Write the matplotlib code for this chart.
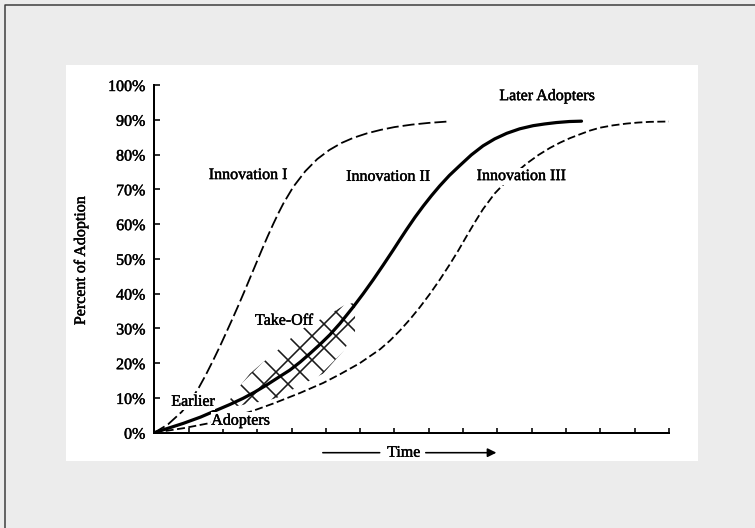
import numpy as np
import matplotlib.pyplot as plt
import matplotlib.patheffects as pe
from matplotlib.patches import Rectangle
from matplotlib.lines import Line2D

plt.rcParams['font.family'] = ['Liberation Serif', 'DejaVu Serif']
plt.rcParams['lines.scale_dashes'] = False
plt.rcParams['hatch.linewidth'] = 1.6

# curves: x in time ticks, y in percent
inno1_x = [0, 0.4, 0.8, 1.05, 1.3, 1.5, 1.72, 1.92, 2.11, 2.28, 2.45, 2.62, 2.79, 2.96, 3.13,
           3.3, 3.47, 3.62, 3.76, 4.05, 4.4, 4.75, 5.1, 5.45, 5.8, 6.2, 6.6, 7.0, 7.5, 8.0, 8.56]
inno1_y = [0, 2.4, 6.0, 9.1, 13.0, 16.6, 20.9, 25.0, 29.1, 32.8, 36.6, 40.5, 44.5, 48.5, 52.5,
           56.4, 60.1, 63.2, 65.9, 70.7, 75.2, 78.7, 81.3, 83.3, 84.8, 86.1, 87.1, 87.9, 88.6, 89.1, 89.5]

inno2_x = [0, 0.85, 1.35, 1.82, 2.2, 2.59, 2.93, 3.27, 3.6, 3.95, 4.25, 4.54, 4.83, 5.12, 5.41,
           5.8, 6.09, 6.38, 6.67, 6.96, 7.15, 7.35, 7.6, 7.84, 8.08, 8.32, 8.6, 8.9, 9.24, 9.58,
           9.92, 10.27, 10.65, 11.04, 11.38, 11.72, 12.1, 12.45]
inno2_y = [0, 2.7, 4.5, 6.5, 8.1, 9.9, 11.7, 13.7, 15.8, 18.0, 20.3, 22.8, 25.4, 28.2, 31.4,
           36.2, 40.0, 44.0, 48.2, 52.5, 55.4, 58.4, 62.0, 65.2, 68.2, 71.0, 74.0, 76.8, 79.9, 82.5,
           84.5, 86.1, 87.4, 88.3, 88.8, 89.2, 89.5, 89.6]

inno3_x = [0, 0.85, 1.53, 2.2, 2.85, 3.47, 4.24, 4.92, 5.41, 5.99, 6.58, 6.87, 7.16, 7.45, 7.74,
           8.03, 8.32, 8.61, 8.86, 9.1, 9.34, 9.58, 9.92, 10.27, 10.56, 10.85, 11.2, 11.53, 11.82,
           12.11, 12.4, 12.7, 12.98, 13.37, 13.76, 14.1, 14.44, 15.0]
inno3_y = [0, 1.3, 2.6, 4.3, 6.2, 8.4, 11.4, 14.3, 16.8, 20.0, 24.0, 26.5, 29.4, 32.6, 36.1,
           39.9, 44.0, 48.4, 52.4, 56.5, 60.5, 64.3, 68.8, 72.4, 75.0, 77.4, 79.9, 81.9, 83.4,
           84.7, 85.8, 86.9, 87.7, 88.4, 88.9, 89.2, 89.4, 89.5]

# take-off hatched band
takeoff_x = [2.2, 2.5, 2.79, 3.2, 3.57, 4.24, 4.92, 5.51, 5.85]
takeoff_lo = [7.5, 7.8, 8.5, 9.0, 10.0, 13.5, 17.0, 23.5, 29.0]
takeoff_hi = [9.5, 13.5, 17.0, 20.5, 23.5, 29.5, 33.0, 36.5, 37.5]

yticks = list(range(0, 101, 10))
ylabels = [f'{v}%' for v in yticks]

W, H = 755, 528
ink = [pe.withStroke(linewidth=0.45, foreground='black')]

fig = plt.figure(figsize=(W / 72, H / 72), dpi=72, facecolor='#ececec')
fig.patches.append(Rectangle((66 / W, 1 - 461 / H), 632 / W, 396 / H, transform=fig.transFigure,
                             facecolor='white', edgecolor='none', zorder=-1))
fig.add_artist(Line2D([5 / W, 5 / W, 1], [0, 1 - 4.5 / H, 1 - 4.5 / H], transform=fig.transFigure,
                      color='#3a3a3a', lw=1.5))

ax = fig.add_axes([154.3 / W, 1 - 432.7 / H, 514.7 / W, 347.7 / H])
ax.set_facecolor('none')
ax.set_xlim(0, 15)
ax.set_ylim(0, 100)

ax.plot(inno1_x, inno1_y, color='k', lw=1.8, dashes=(12, 4))
ax.plot(inno2_x, inno2_y, color='k', lw=3.2, solid_capstyle='round', solid_joinstyle='round')
ax.plot(inno3_x, inno3_y, color='k', lw=1.8, dashes=(8, 3.5))
ax.fill_between(takeoff_x, takeoff_lo, takeoff_hi, facecolor='none', edgecolor='#1a1a1a',
                hatch='x', linewidth=0)

for s in ['top', 'right']:
    ax.spines[s].set_visible(False)
for s in ['left', 'bottom']:
    ax.spines[s].set_linewidth(2)
ax.set_yticks(yticks)
ax.set_yticklabels(ylabels)
ax.set_xticks(range(1, 16))
ax.tick_params(axis='y', direction='in', length=6, width=1.6, pad=9, labelsize=16)
ax.tick_params(axis='x', direction='in', length=5, width=1.6, labelbottom=False)
for t in ax.get_yticklabels():
    t.set_path_effects(ink)
ax.set_ylabel('Percent of Adoption', fontsize=16, path_effects=ink)
ax.yaxis.set_label_coords(-0.127, 0.494)

white = dict(facecolor='white', edgecolor='none', pad=0.5)
kw = dict(fontsize=16, ha='center', va='center', path_effects=ink)
ax.text(2.73, 74.1, 'Innovation I', **kw)
ax.text(6.81, 73.6, 'Innovation II', **kw)
ax.text(10.69, 73.8, 'Innovation III', bbox=white, **kw)
ax.text(11.44, 96.8, 'Later Adopters', **kw)
ax.text(3.78, 32.2, 'Take-Off', **kw)
ax.text(1.13, 8.9, 'Earlier', bbox=white, **kw)
ax.text(2.51, 3.45, 'Adopters', bbox=white, **kw)

# time arrow under the axis
ax.text(7.27, -5.75, 'Time', clip_on=False, **kw)
ax.annotate('', xy=(4.91, -5.75), xytext=(6.57, -5.75), annotation_clip=False,
            arrowprops=dict(arrowstyle='-', lw=1.6, color='k', shrinkA=0, shrinkB=0))
ax.annotate('', xy=(9.97, -5.75), xytext=(7.91, -5.75), annotation_clip=False,
            arrowprops=dict(arrowstyle='-|>', lw=1.6, color='k', mutation_scale=18,
                            shrinkA=0, shrinkB=0))

fig.savefig('out.png', dpi=72, facecolor=fig.get_facecolor())
